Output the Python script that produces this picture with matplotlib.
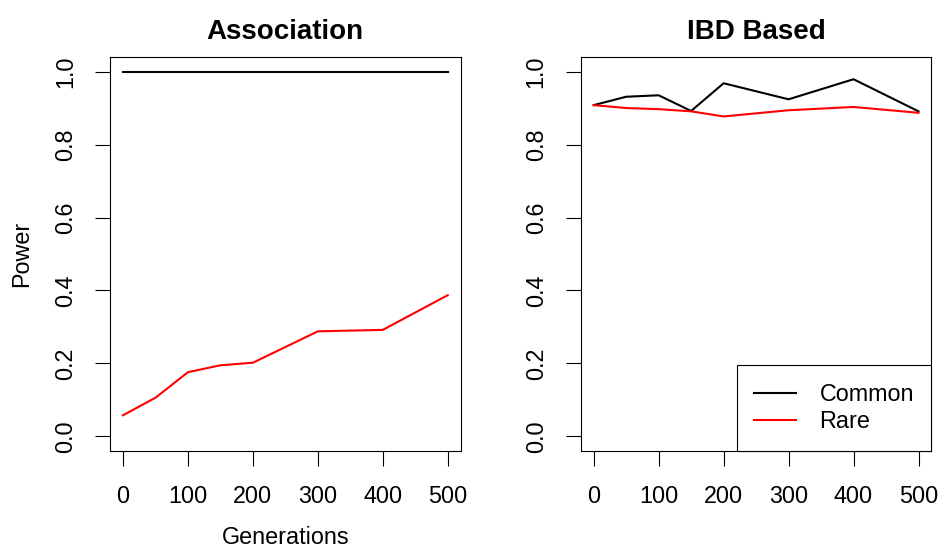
import numpy as np
import matplotlib; matplotlib.use('Agg')
import matplotlib.pyplot as plt

plt.rcParams['font.family'] = ['Liberation Sans', 'DejaVu Sans']

gens = [0, 50, 100, 150, 200, 300, 400, 500]
assoc_common = [1.0, 1.0, 1.0, 1.0, 1.0, 1.0, 1.0, 1.0]
assoc_rare = [0.058, 0.106, 0.176, 0.195, 0.202, 0.288, 0.292, 0.387]
ibd_common = [0.908, 0.931, 0.935, 0.892, 0.968, 0.924, 0.979, 0.891]
ibd_rare = [0.908, 0.900, 0.897, 0.891, 0.877, 0.894, 0.903, 0.887]
xticks = [0, 100, 200, 300, 400, 500]
yticks = [0.0, 0.2, 0.4, 0.6, 0.8, 1.0]

FS = 16.8
fig = plt.figure(figsize=(9.41, 5.5), dpi=100)
ax1 = fig.add_axes([0.1169, 0.18, 0.3727, 0.7164])
ax2 = fig.add_axes([0.6171, 0.18, 0.3728, 0.7164])

for ax, com, rare, title in [(ax1, assoc_common, assoc_rare, "Association"),
                             (ax2, ibd_common, ibd_rare, "IBD Based")]:
    ax.plot(gens, com, color='black', lw=1.5, label='Common')
    ax.plot(gens, rare, color='red', lw=1.5, label='Rare')
    ax.set_xlim(-20, 520); ax.set_ylim(-0.04, 1.04)
    ax.set_xticks(xticks); ax.set_xticklabels([str(t) for t in xticks])
    ax.set_yticks(yticks); ax.set_yticklabels([f"{t:.1f}" for t in yticks],
                                              rotation=90, va='center')
    ax.tick_params(length=10.8, width=0.8, labelsize=FS, pad=13.5)
    ax.tick_params(axis='y', pad=13)
    for sp in ax.spines.values(): sp.set_linewidth(0.8)
    ax.set_title(title, fontsize=20, fontweight='bold', pad=13)

ax1.set_xlabel("Generations", fontsize=FS, labelpad=13)
ax1.set_ylabel("Power", fontsize=FS, labelpad=15)

leg = ax2.legend(loc='lower right', fontsize=FS, fancybox=False, framealpha=1,
                 edgecolor='black', borderaxespad=0, handlelength=1.8,
                 handletextpad=1.0, borderpad=0.75, labelspacing=0.2)
leg.get_frame().set_linewidth(0.8)

plt.savefig("out.png", dpi=100)
